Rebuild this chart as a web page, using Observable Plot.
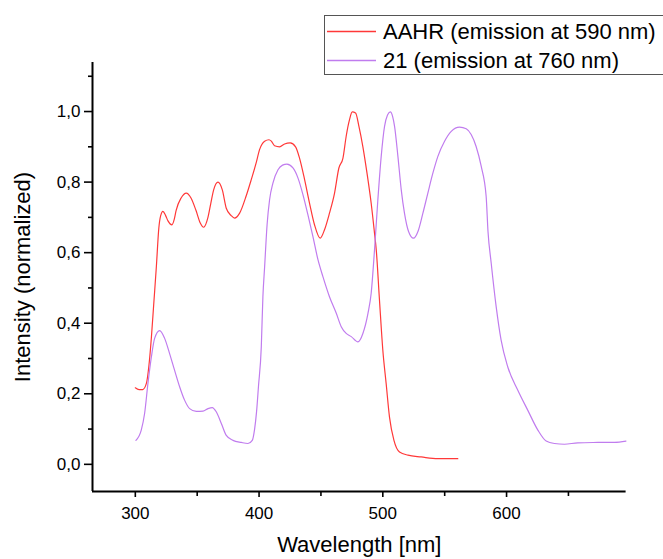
<!DOCTYPE html>
<html>
<head>
<meta charset="utf-8">
<script src="https://cdn.jsdelivr.net/npm/d3@7"></script>
<script src="https://cdn.jsdelivr.net/npm/@observablehq/plot@0.6"></script>
<style>
  html, body { margin: 0; padding: 0; background: #fff; overflow: hidden; }
  #wrap { position: relative; width: 663px; height: 559px; }
  #legend { position: absolute; left: 324px; top: 15px; }
</style>
</head>
<body>
<div id="wrap"></div>
<script>
// ---- Data ----
const seriesNames = ["AAHR (emission at 590 nm)", "21 (emission at 760 nm)"];
const seriesColors = ["#ff3838", "#c07cee"];

const wavelengthAAHR = [300, 303, 306, 309, 311, 313, 315, 317, 319, 320.5, 322.3, 324.5, 326.4, 329.6, 331.5, 333, 337, 341.2, 345, 349, 352.5, 355.2, 358.7, 361, 363.3, 366.8, 370.3, 373.5, 377.5, 380.2, 384.3, 389.7, 393.7, 397.7, 400.4, 404.5, 408, 409.9, 412.5, 416.6, 420.6, 425.2, 429.5, 432.7, 436.8, 440.8, 444.8, 449.4, 452.9, 456.9, 461, 464.5, 467.8, 470.4, 473.1, 475.3, 478, 480.7, 483.9, 487.2, 490.6, 493.3, 494.7, 497.3, 500, 502.7, 505.4, 509, 513.5, 520.3, 531, 544.5, 560.6];
const intensityAAHR = [0.217, 0.212, 0.212, 0.23, 0.28, 0.36, 0.46, 0.56, 0.67, 0.705, 0.717, 0.705, 0.69, 0.679, 0.695, 0.72, 0.755, 0.769, 0.755, 0.72, 0.684, 0.672, 0.70, 0.74, 0.778, 0.80, 0.778, 0.726, 0.705, 0.698, 0.712, 0.762, 0.807, 0.855, 0.892, 0.916, 0.92, 0.916, 0.903, 0.90, 0.908, 0.911, 0.90, 0.868, 0.807, 0.74, 0.679, 0.641, 0.665, 0.712, 0.769, 0.84, 0.868, 0.93, 0.977, 0.999, 0.996, 0.958, 0.90, 0.826, 0.74, 0.655, 0.608, 0.466, 0.324, 0.229, 0.134, 0.068, 0.035, 0.026, 0.021, 0.016, 0.016];

const wavelength21 = [300.5, 304.8, 307.5, 310.2, 313, 315.6, 319.7, 323.7, 327.7, 331.7, 335.8, 339.8, 343.9, 349.3, 354.7, 358.7, 362.2, 365.4, 369.5, 373.5, 378.9, 385.6, 391, 394.5, 396.4, 398, 399.5, 401.8, 403.1, 404.5, 406.5, 408.5, 411.2, 415.3, 419, 422.5, 427.4, 431.4, 435.5, 439.5, 443.5, 447.6, 451.6, 456.9, 462.4, 466.4, 470.4, 474.5, 479.9, 483.9, 488, 490.6, 493.3, 496, 498.7, 501.4, 503.8, 506, 508, 509.5, 512.2, 514.9, 517.5, 520.8, 524.8, 528.4, 532.4, 536.4, 540.5, 544.5, 549.9, 555.3, 562, 567.4, 571.4, 575.4, 579.5, 583.5, 585, 587.6, 591.6, 595.6, 601, 609.1, 617.2, 625.3, 632, 638.7, 646.8, 657.6, 673.8, 687.2, 696.5];
const intensity21 = [0.068, 0.097, 0.144, 0.229, 0.305, 0.357, 0.379, 0.357, 0.314, 0.267, 0.22, 0.182, 0.158, 0.150, 0.151, 0.158, 0.161, 0.149, 0.116, 0.082, 0.068, 0.062, 0.059, 0.068, 0.10, 0.15, 0.22, 0.333, 0.475, 0.56, 0.68, 0.75, 0.797, 0.835, 0.848, 0.851, 0.84, 0.812, 0.764, 0.707, 0.646, 0.58, 0.532, 0.475, 0.428, 0.39, 0.371, 0.362, 0.347, 0.371, 0.428, 0.485, 0.608, 0.75, 0.873, 0.958, 0.99, 0.999, 0.985, 0.958, 0.873, 0.778, 0.712, 0.66, 0.641, 0.66, 0.712, 0.769, 0.826, 0.873, 0.916, 0.944, 0.956, 0.951, 0.935, 0.901, 0.845, 0.76, 0.66, 0.57, 0.447, 0.352, 0.276, 0.21, 0.153, 0.097, 0.066, 0.059, 0.057, 0.061, 0.062, 0.0625, 0.066];

const xMajorTicks = [300, 400, 500, 600];
const xMinorTicks = [350, 450, 550, 650];
const yMajorTicks = [0, 0.2, 0.4, 0.6, 0.8, 1.0];
const yMinorTicks = [0.1, 0.3, 0.5, 0.7, 0.9, 1.1];
const xTitle = "Wavelength [nm]";
const yTitle = "Intensity (normalized)";
const xDomain = [265.4, 696.6];
const yDomain = [-0.077, 1.139];

// ---- Build table ----
const rows = [];
wavelengthAAHR.forEach((w, i) => rows.push({series: seriesNames[0], w, v: intensityAAHR[i]}));
wavelength21.forEach((w, i) => rows.push({series: seriesNames[1], w, v: intensity21[i]}));

const fmt = d => d.toFixed(1).replace(".", ",");
const font = '"Liberation Sans", Arial, sans-serif';

const chart = Plot.plot({
  width: 663,
  height: 559,
  marginLeft: 92,
  marginRight: 37.4,
  marginTop: 62,
  marginBottom: 68,
  style: {fontFamily: font, fontSize: "17px", color: "#000", background: "#fff"},
  x: {domain: xDomain, label: null},
  y: {domain: yDomain, label: null},
  color: {domain: seriesNames, range: seriesColors},
  marks: [
    Plot.axisX(xMajorTicks, {tickSize: 6, tickPadding: 9, tickFormat: d => String(d), strokeWidth: 1.6, fontSize: 17, label: null}),
    Plot.axisX(xMinorTicks, {tickSize: 5, tickFormat: () => "", strokeWidth: 1.6, label: null}),
    Plot.axisY(yMajorTicks, {tickSize: 8, tickPadding: 4, tickFormat: fmt, strokeWidth: 1.6, fontSize: 17, label: null}),
    Plot.axisY(yMinorTicks, {tickSize: 4, tickFormat: () => "", strokeWidth: 1.6, label: null}),
    Plot.line(rows, {x: "w", y: "v", z: "series", stroke: "series", strokeWidth: 1.2, curve: "monotone-x"}),
    Plot.ruleX([xDomain[0]], {stroke: "#000", strokeWidth: 2}),
    Plot.ruleY([yDomain[0]], {stroke: "#000", strokeWidth: 2}),
    Plot.text([xTitle], {frameAnchor: "bottom", dy: 53, lineAnchor: "middle", textAnchor: "middle", fontSize: 22, text: d => d}),
    Plot.text([yTitle], {frameAnchor: "left", dx: -70, rotate: -90, lineAnchor: "middle", textAnchor: "middle", fontSize: 22, text: d => d})
  ]
});

const wrap = document.getElementById("wrap");
wrap.appendChild(chart);

// ---- Legend overlay (inside plot area, top right, as in the reference) ----
const ns = "http://www.w3.org/2000/svg";
const leg = document.createElementNS(ns, "svg");
leg.setAttribute("id", "legend");
leg.setAttribute("width", 345);
leg.setAttribute("height", 61);
const box = document.createElementNS(ns, "rect");
box.setAttribute("x", 0.5); box.setAttribute("y", 0.5);
box.setAttribute("width", 350); box.setAttribute("height", 59);
box.setAttribute("fill", "#fff"); box.setAttribute("stroke", "#555"); box.setAttribute("stroke-width", 1);
leg.appendChild(box);
seriesNames.forEach((name, i) => {
  const yy = 16.5 + i * 29;
  const ln = document.createElementNS(ns, "line");
  ln.setAttribute("x1", 3); ln.setAttribute("x2", 52);
  ln.setAttribute("y1", yy); ln.setAttribute("y2", yy);
  ln.setAttribute("style", "stroke:" + seriesColors[i] + ";stroke-width:1.3px");
  leg.appendChild(ln);
  const tx = document.createElementNS(ns, "text");
  tx.setAttribute("x", 59); tx.setAttribute("y", yy + 7.8);
  tx.setAttribute("style", "font-family:" + font + ";font-size:22px;fill:#000");
  tx.textContent = name;
  leg.appendChild(tx);
});
wrap.appendChild(leg);
</script>
</body>
</html>
